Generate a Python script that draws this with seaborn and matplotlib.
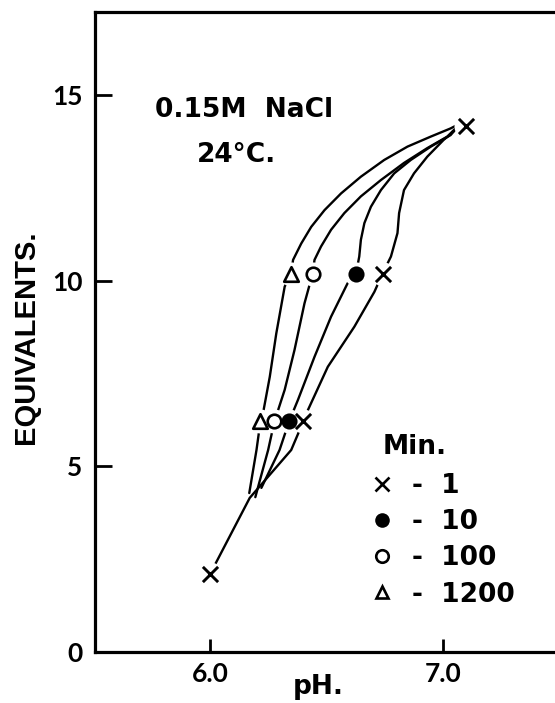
import matplotlib
matplotlib.use("Agg")
import matplotlib.pyplot as plt
import numpy as np
import pandas as pd
import seaborn as sns
from matplotlib.lines import Line2D

# ---- curve data (pH, equivalents) ----
c1_ph = [6.00, 6.17, 6.348, 6.40, 6.42, 6.505, 6.619, 6.705, 6.74, 6.776, 6.804, 6.811,
         6.832, 6.875, 6.932, 7.002, 7.045, 7.075]
c1_eq = [2.10, 4.15, 5.44, 6.21, 6.52, 7.68, 8.76, 9.70, 10.19, 10.65, 11.28, 11.82,
         12.44, 12.89, 13.34, 13.79, 14.02, 14.24]

c10_ph = [6.22, 6.298, 6.339, 6.377, 6.448, 6.519, 6.59, 6.626, 6.640, 6.647, 6.662, 6.690,
          6.733, 6.790, 6.861, 6.947, 7.032, 7.075]
c10_eq = [4.42, 5.44, 6.21, 6.79, 7.95, 9.03, 9.93, 10.19, 10.65, 11.10, 11.55, 11.99,
          12.44, 12.89, 13.25, 13.61, 13.92, 14.24]

c100_ph = [6.194, 6.249, 6.276, 6.32, 6.362, 6.405, 6.44, 6.448, 6.476, 6.519, 6.576, 6.647,
           6.733, 6.832, 6.932, 7.018, 7.075]
c100_eq = [4.17, 5.44, 6.21, 7.06, 8.13, 9.39, 10.19, 10.56, 10.92, 11.37, 11.82, 12.27,
           12.71, 13.17, 13.57, 13.88, 14.24]

c1200_ph = [6.168, 6.199, 6.216, 6.227, 6.256, 6.284, 6.320, 6.347, 6.356, 6.391, 6.434, 6.491,
            6.562, 6.647, 6.747, 6.847, 6.947, 7.032, 7.075]
c1200_eq = [4.28, 5.44, 6.21, 6.43, 7.41, 8.58, 9.84, 10.17, 10.56, 11.00, 11.45, 11.90,
            12.35, 12.80, 13.25, 13.61, 13.88, 14.10, 14.24]

# ---- measured points ----
m1_ph = [6.00, 6.40, 6.74, 7.10]
m1_eq = [2.10, 6.21, 10.19, 14.17]
m10_ph = [6.339, 6.626]
m10_eq = [6.21, 10.19]
m100_ph = [6.276, 6.44]
m100_eq = [6.21, 10.19]
m1200_ph = [6.216, 6.347]
m1200_eq = [6.21, 10.17]

series = ["1", "10", "100", "1200"]
legend_labels = ["-  1", "-  10", "-  100", "-  1200"]
x_ticks = [6.0, 7.0]
x_ticklabels = ["6.0", "7.0"]
y_ticks = [0, 5, 10, 15]
y_ticklabels = ["0", "5", "10", "15"]

curves = pd.concat([
    pd.DataFrame({"pH": c1_ph, "eq": c1_eq, "Min": "1"}),
    pd.DataFrame({"pH": c10_ph, "eq": c10_eq, "Min": "10"}),
    pd.DataFrame({"pH": c100_ph, "eq": c100_eq, "Min": "100"}),
    pd.DataFrame({"pH": c1200_ph, "eq": c1200_eq, "Min": "1200"}),
], ignore_index=True)

pts = {
    "1": pd.DataFrame({"pH": m1_ph, "eq": m1_eq}),
    "10": pd.DataFrame({"pH": m10_ph, "eq": m10_eq}),
    "100": pd.DataFrame({"pH": m100_ph, "eq": m100_eq}),
    "1200": pd.DataFrame({"pH": m1200_ph, "eq": m1200_eq}),
}
all_pts = pd.concat(pts.values(), ignore_index=True)

sns.set_theme(style="ticks")
plt.rcParams["font.family"] = ["DejaVu Sans"]
plt.rcParams["text.color"] = "black"
plt.rcParams["axes.labelcolor"] = "black"
plt.rcParams["xtick.color"] = "black"
plt.rcParams["ytick.color"] = "black"

W, H = 555, 703
fig = plt.figure(figsize=(W / 100, H / 100), dpi=100)
ax = fig.add_axes([95 / W, 51 / H, 460 / W, 640 / H])

sns.lineplot(data=curves, x="pH", y="eq", units="Min", estimator=None, sort=False,
             color="black", linewidth=1.7, ax=ax, legend=False)

# white halos so the curves stop short of the symbols
sns.scatterplot(data=all_pts, x="pH", y="eq", color="white", s=300, linewidth=0,
                ax=ax, zorder=3, legend=False)

sns.scatterplot(data=pts["1"], x="pH", y="eq", marker="x", color="black", s=120,
                linewidth=2.1, ax=ax, zorder=4, legend=False)
sns.scatterplot(data=pts["10"], x="pH", y="eq", marker="o", color="black", s=135,
                linewidth=0, ax=ax, zorder=4, legend=False)
sns.scatterplot(data=pts["100"], x="pH", y="eq", marker="o", color="white",
                edgecolor="black", s=95, linewidth=1.9, ax=ax, zorder=4, legend=False)
sns.scatterplot(data=pts["1200"], x="pH", y="eq", marker="^", color="white",
                edgecolor="black", s=110, linewidth=1.9, ax=ax, zorder=4, legend=False)

ax.set_xlim(5.506, 7.48)
ax.set_ylim(0, 17.235)
ax.set_xticks(x_ticks)
ax.set_xticklabels(x_ticklabels)
ax.set_yticks(y_ticks)
ax.set_yticklabels(y_ticklabels)

for s in ["left", "bottom", "top"]:
    ax.spines[s].set_linewidth(2.3)
    ax.spines[s].set_color("black")
ax.spines["right"].set_visible(False)

ax.tick_params(axis="y", direction="in", length=12, width=2.0, pad=9, colors="black")
ax.tick_params(axis="x", direction="in", length=9.5, width=2.0, pad=7, colors="black")
for lbl in ax.get_xticklabels() + ax.get_yticklabels():
    lbl.set_fontfamily(["Lato", "DejaVu Sans"])
    lbl.set_fontweight("bold")
    lbl.set_fontsize(19)
    lbl.set_color("black")

ax.set_xlabel("pH.", fontsize=19, fontweight="bold", family=["DejaVu Sans"], color="black")
ax.xaxis.set_label_coords(0.485, -0.034)
ax.set_ylabel("EQUIVALENTS.", fontsize=21, fontweight="bold",
              family=["Liberation Sans", "DejaVu Sans"], color="black")
ax.yaxis.set_label_coords(-0.12, 0.492)

ax.text(0.1304, 0.836, "0.15M  NaCl", transform=ax.transAxes, fontsize=19,
        fontweight="bold", va="baseline", ha="left", color="black")
ax.text(0.2217, 0.7656, "24°C.", transform=ax.transAxes, fontsize=19,
        fontweight="bold", va="baseline", ha="left", color="black")
ax.text(0.626, 0.309, "Min.", transform=ax.transAxes, fontsize=19,
        fontweight="bold", va="baseline", ha="left", color="black")

handles = [
    Line2D([], [], ls="none", marker="x", color="black", markersize=9.5, markeredgewidth=1.9),
    Line2D([], [], ls="none", marker="o", color="black", markersize=10.5, markeredgewidth=0),
    Line2D([], [], ls="none", marker="o", markerfacecolor="white", markeredgecolor="black",
           markersize=9, markeredgewidth=1.9),
    Line2D([], [], ls="none", marker="^", markerfacecolor="white", markeredgecolor="black",
           markersize=9, markeredgewidth=1.9),
]
leg = ax.legend(handles, legend_labels, loc="upper left",
                bbox_to_anchor=(0.602, 0.279), frameon=False, borderpad=0,
                handlelength=0.8, handletextpad=0.7, labelspacing=0.38,
                fontsize=19, borderaxespad=0)
for t in leg.get_texts():
    t.set_fontweight("bold")
    t.set_color("black")

fig.savefig("out.png", dpi=100)
